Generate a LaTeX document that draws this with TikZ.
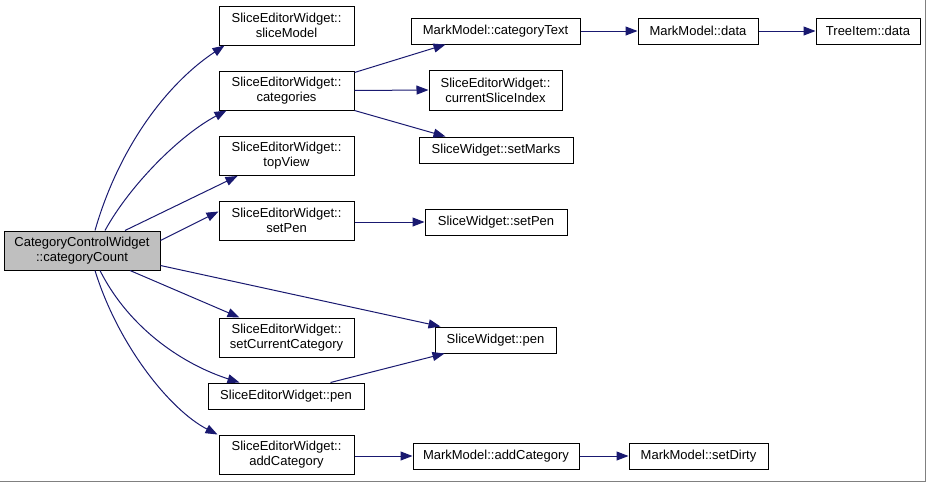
\documentclass[tikz,border=0pt]{standalone}
\usepackage{fontspec}
\setmainfont{Liberation Sans}
\usetikzlibrary{arrows.meta,positioning}
\definecolor{EdgeBlue}{HTML}{191970}
\definecolor{RootGray}{HTML}{BFBFBF}
\definecolor{FrameGray}{HTML}{808080}
\tikzset{
  fn/.style={
    draw=black, line width=1pt, fill=white, align=center,
    inner xsep=4pt, inner ysep=1pt, minimum height=26,
    font=\fontsize{13}{14.8}\selectfont
  },
  fnpair/.style={fn, minimum width=135, minimum height=39},
  rootfn/.style={fn, fill=RootGray, minimum width=156, minimum height=39},
  call/.style={-{Triangle[length=12pt,width=9pt]}, line width=1pt, draw=EdgeBlue}
}
\begin{document}
\begin{tikzpicture}[x=1pt,y=-1pt]
    \useasboundingbox (0,0) rectangle (927,483);
    \node[rootfn] (root) at (82,250.5) {CategoryControlWidget\\::categoryCount};
    \node[fnpair] (sliceModel) at (286.5,25.5) {SliceEditorWidget::\\sliceModel};
    \node[fnpair] (categories) at (286.5,90.5) {SliceEditorWidget::\\categories};
    \node[fnpair] (topView) at (286.5,156) {SliceEditorWidget::\\topView};
    \node[fnpair] (setPen) at (286.5,220.5) {SliceEditorWidget::\\setPen};
    \node[fnpair] (setCurrent) at (286.5,337.5) {SliceEditorWidget::\\setCurrentCategory};
    \node[fn,minimum width=156] (pen) at (286,396) {SliceEditorWidget::pen};
    \node[fnpair] (addCat) at (286.5,454.5) {SliceEditorWidget::\\addCategory};
    \node[fn,minimum width=169] (catText) at (495.5,31) {MarkModel::categoryText};
    \node[fnpair,minimum width=133,minimum height=40] (curIndex) at (495.5,90) {SliceEditorWidget::\\currentSliceIndex};
    \node[fn,minimum width=154] (setMarks) at (496,150) {SliceWidget::setMarks};
    \node[fn,minimum width=142] (swSetPen) at (496,222) {SliceWidget::setPen};
    \node[fn,minimum width=121] (swPen) at (495.5,340) {SliceWidget::pen};
    \node[fn,minimum width=166] (mmAddCat) at (496,456) {MarkModel::addCategory};
    \node[fn,minimum width=120] (mmData) at (698,31) {MarkModel::data};
    \node[fn,minimum width=104] (treeData) at (868,31) {TreeItem::data};
    \node[fn,minimum width=139] (setDirty) at (698.5,456) {MarkModel::setDirty};
    \draw[call] ([xshift=13]root.north) .. controls (118,150) and (165,85) .. ([xshift=6]sliceModel.south west);
    \draw[call] ([xshift=23]root.north) .. controls (130,185) and (180,135) .. ([xshift=8]categories.south west);
    \draw[call] ([xshift=43]root.north) -- ([xshift=19]topView.south west);
    \draw[call] ([yshift=10]root.east) -- ([yshift=9]setPen.west);
    \draw[call] ([yshift=-15]root.east) -- ([xshift=6]swPen.north west);
    \draw[call] ([xshift=48]root.south) -- ([xshift=21]setCurrent.north west);
    \draw[call] ([xshift=18]root.south) .. controls (130,330) and (185,365) .. ([xshift=32]pen.north west);
    \draw[call] ([xshift=13]root.south) .. controls (118,345) and (170,410) .. ([xshift=-1]addCat.north west);
    \draw[call] ([yshift=-2]categories.north east) -- ([xshift=35]catText.south west);
    \draw[call] (categories.east) -- (curIndex.west);
    \draw[call] (categories.south east) -- ([xshift=27]setMarks.north west);
    \draw[call] ([yshift=-1.5]setPen.east) -- (swSetPen.west);
    \draw[call] ([xshift=-34]pen.north east) -- ([xshift=10]swPen.south west);
    \draw[call] ([yshift=-1.5]addCat.east) -- (mmAddCat.west);
    \draw[call] (catText.east) -- (mmData.west);
    \draw[call] (mmData.east) -- (treeData.west);
    \draw[call] (mmAddCat.east) -- (setDirty.west);
    \draw[FrameGray, line width=1pt] (925.5,0) -- (925.5,481.5) -- (0,481.5);
  \end{tikzpicture}
\end{document}
